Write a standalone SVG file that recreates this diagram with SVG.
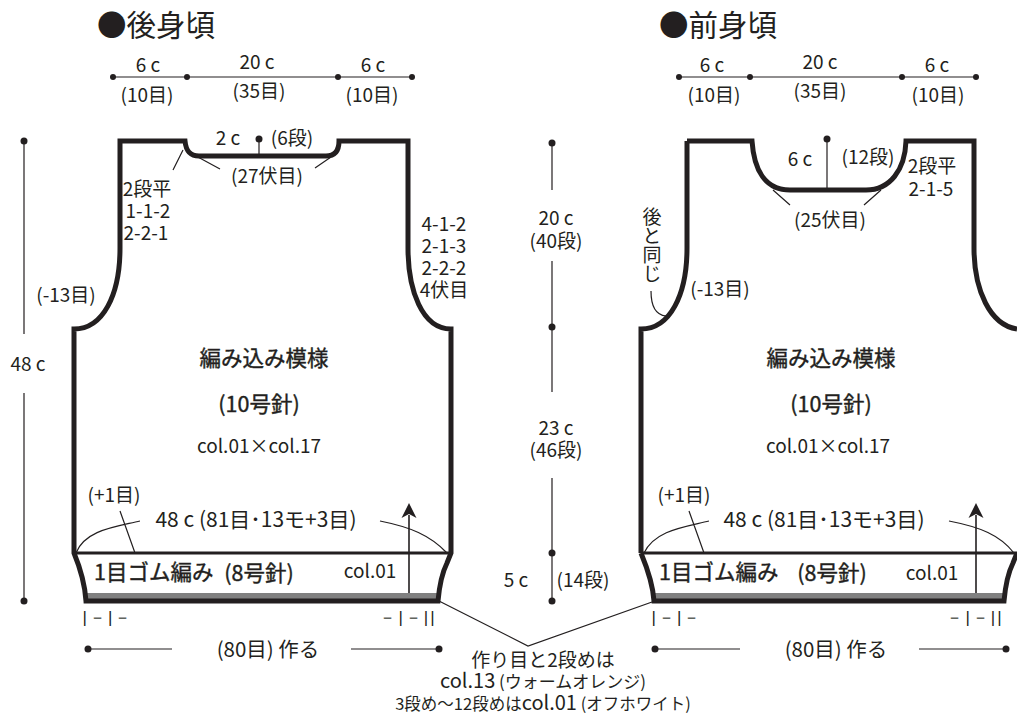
<svg xmlns="http://www.w3.org/2000/svg" width="1017" height="714" viewBox="0 0 1017 714">
<style>
text{font-family:"Noto Sans CJK JP","Noto Sans",sans-serif;font-size:19px;fill:#231f20;text-anchor:middle}
.b{fill:none;stroke:#231f20;stroke-width:5;stroke-linejoin:miter}
.m{fill:none;stroke:#231f20;stroke-width:3}
.t{fill:none;stroke:#231f20;stroke-width:1.2}
.ar{fill:none;stroke:#231f20;stroke-width:1.6}
.d{fill:#231f20}
.g{fill:#808080}
.h{font-size:29.5px}
.s{font-size:16.5px}
.k{font-size:19px}
.w{font-size:21px}
.z{font-size:20.5px}
.tk{font-size:21.5px;stroke:#231f20;stroke-width:.4}
.l{text-anchor:start}
.tick{font-size:17px;letter-spacing:2px;font-family:"Liberation Sans",sans-serif}
</style>
<defs>
<marker id="a" markerWidth="16" markerHeight="16" refX="3" refY="8" orient="auto" markerUnits="userSpaceOnUse"><path d="M15 8L0 0.5L4 8L0 15.5Z" fill="#231f20"/></marker>
</defs>
<g id="connectors">
<path class="t" d="M113 77H412M679 77H976"/>
<path class="t" d="M24 141V334M24 393V601M552 143V190M552 261V392M552 478V601"/>
<path class="t" d="M88 649H172M351 649H439M654 649H740M919 649H1006"/>
<path class="t" d="M259 139V155M827 139V189"/>
<path class="t" d="M430 596L439 601L528 646L652 602L656 600"/>
<path class="t" d="M183 150L173 170M196 156L220 169M331 157L315 168M773 190L790 205M881 190L864 205"/>
<path class="t" d="M651 291C651 306 655 315 666 316"/>
<path class="t" d="M120 511L135 553M76 553C85 530 115 527 140 521M447 553C430 535 410 527 380 521M689 511L704 553M644 553C655 530 685 527 709 521M1014 553C1000 535 980 527 949 521"/>
<path class="ar" d="M409 599V515" marker-end="url(#a)"/>
<path class="ar" d="M976 599V515" marker-end="url(#a)"/>
<g class="d">
<circle cx="113" cy="77" r="3"/><circle cx="187" cy="77" r="3"/><circle cx="338" cy="77" r="3"/><circle cx="412" cy="77" r="3"/>
<circle cx="679" cy="77" r="3"/><circle cx="750" cy="77" r="3"/><circle cx="902" cy="77" r="3"/><circle cx="976" cy="77" r="3"/>
<circle cx="24" cy="141" r="3.5"/><circle cx="24" cy="601" r="3.5"/>
<circle cx="552" cy="143" r="3.5"/><circle cx="552" cy="327" r="3.5"/><circle cx="552" cy="553" r="3.5"/><circle cx="552" cy="601" r="3.5"/>
<circle cx="259" cy="139" r="3.5"/><circle cx="827" cy="139" r="3.5"/>
<circle cx="88" cy="649" r="3.5"/><circle cx="439" cy="649" r="3.5"/><circle cx="655" cy="649" r="3.5"/><circle cx="1006" cy="649" r="3.5"/>
</g>
</g>
<g id="back">
<rect class="g" x="87" y="593" width="352" height="6"/>
<path class="b" d="M120 141H185C186 151 190 156 199 156H326C335 156 339 151 339 141H408V248C408 290 422 329 451 329V553L447 563C441 575 439 590 438 601H86C85 585 81 570 74 553V329C103 329 120 295 120 248Z"/>
<path class="m" d="M74 553H451"/>
<text class="h l" x="97" y="36">●後身頃</text>
<text x="148" y="72">6 c</text><text x="257" y="69">20 c</text><text x="373" y="72">6 c</text>
<text x="147" y="102">(10目)</text><text x="259" y="98">(35目)</text><text x="372" y="102">(10目)</text>
<text x="228" y="145">2 c</text><text x="292" y="145">(6段)</text>
<text x="267" y="183">(27伏目)</text>
<text class="k" x="147" y="196">2段平</text><text class="k" x="148" y="218">1-1-2</text><text class="k" x="146" y="240">2-2-1</text>
<text class="k" x="444" y="231">4-1-2</text><text class="k" x="444" y="253">2-1-3</text><text class="k" x="444" y="275">2-2-2</text><text class="k" x="444" y="297">4伏目</text>
<text x="66" y="302">(-13目)</text>
<text class="tk" x="264" y="366">編み込み模様</text>
<text class="tk" x="259" y="412">(10号針)</text>
<text x="259" y="453">col.01×col.17</text>
<text x="114" y="502">(+1目)</text>
<text class="w" x="256" y="527">48 c (81目･13モ+3目)</text>
<text class="tk l" x="94" y="580">1目ゴム編み</text><text class="tk" x="259" y="581">(8号針)</text>
<text x="370" y="578">col.01</text>
<text class="tick" x="108" y="623">|－|－</text><text class="tick" x="408" y="623">－|－||</text>
<text class="z" x="268" y="657">(80目) 作る</text>
<text x="28" y="371">48 c</text>
</g>
<g id="front">
<rect class="g" x="655" y="593" width="350" height="6"/>
<path class="b" d="M687 141H752C754 170 765 190 790 190H866C890 190 905 170 906 141H974V248C974 290 990 325 1017 329M641 553V329C670 329 687 295 687 248V141M1017 553L1013 563C1007 575 1005 590 1004 601H654C653 585 648 570 641 553"/>
<path class="m" d="M641 553H1017"/>
<text class="h l" x="659" y="36">●前身頃</text>
<text x="712" y="72">6 c</text><text x="820" y="69">20 c</text><text x="937" y="72">6 c</text>
<text x="714" y="102">(10目)</text><text x="820" y="98">(35目)</text><text x="938" y="102">(10目)</text>
<text x="800" y="166">6 c</text><text x="868" y="164">(12段)</text>
<text class="k" x="932" y="173">2段平</text><text class="k" x="931" y="196">2-1-5</text>
<text x="830" y="227">(25伏目)</text>
<text x="720" y="296">(-13目)</text>
<text class="k l" style="writing-mode:vertical-rl" x="652" y="207">後と同じ</text>
<text class="tk" x="831" y="366">編み込み模様</text>
<text class="tk" x="831" y="412">(10号針)</text>
<text x="828" y="453">col.01×col.17</text>
<text x="684" y="502">(+1目)</text>
<text class="w" x="824" y="527">48 c (81目･13モ+3目)</text>
<text class="tk l" x="659" y="580">1目ゴム編み</text><text class="tk" x="832" y="581">(8号針)</text>
<text x="932" y="580">col.01</text>
<text class="tick" x="677" y="623">|－|－</text><text class="tick" x="975" y="623">－|－||</text>
<text class="z" x="836" y="657">(80目) 作る</text>
</g>
<g id="center">
<text x="556" y="225">20 c</text><text x="556" y="248">(40段)</text>
<text x="556" y="435">23 c</text><text x="556" y="457">(46段)</text>
<text x="516" y="587">5 c</text><text x="583" y="587">(14段)</text>
<text x="543" y="667">作り目と2段めは</text>
<text x="543" y="688"><tspan style="font-size:20px">col.13</tspan><tspan style="font-size:17px"> (ウォームオレンジ)</tspan></text>
<text class="s" x="543" y="710">3段め～12段めは<tspan style="font-size:20px">col.01</tspan> (オフホワイト)</text>
</g>
</svg>
